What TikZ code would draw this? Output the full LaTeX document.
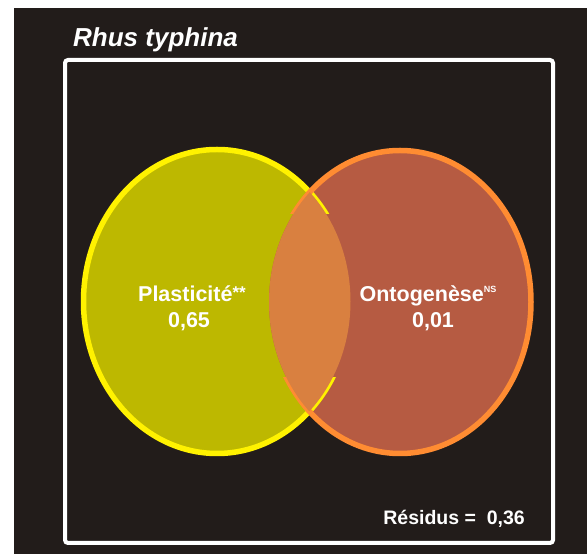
\documentclass[tikz,border=0pt]{standalone}
\usepackage{fontspec}
\setmainfont{Liberation Sans}
\definecolor{bgdark}{HTML}{221C1A}
\definecolor{yfill}{HTML}{BDB800}
\definecolor{ystroke}{HTML}{FFF200}
\definecolor{ofill}{HTML}{B65B42}
\definecolor{ostroke}{HTML}{FF8C32}
\definecolor{lensfill}{HTML}{D98040}
\begin{document}
\begin{tikzpicture}[x=1pt,y=1pt,
  lbl/.style={text=white,font=\bfseries\fontsize{21.5}{23}\selectfont,align=center,inner sep=0pt},
  ystr/.style={draw=ystroke,line width=5.5pt},
  ostr/.style={draw=ostroke,line width=5.5pt}]
\useasboundingbox (0,0) rectangle (587,554);
\fill[white] (0,0) rectangle (587,554);
\fill[bgdark] (14,0) rectangle (587,546);
% frame
\draw[white,line width=4pt,rounded corners=3pt] (65,11) rectangle (553,494);
\node[anchor=base west,text=white,inner sep=0pt,font=\bfseries\itshape\fontsize{26}{28}\selectfont] (title) at (73,507) {Rhus typhina};
% ellipses
\coordinate (yc) at (217,252.5);
\coordinate (oc) at (400,252);
\fill[yfill] (yc) ellipse [x radius=133.5,y radius=152];
\fill[ofill] (oc) ellipse [x radius=131,y radius=151.5];
\draw[ystr] (yc) ellipse [x radius=133.5,y radius=152];
\draw[ostr] (oc) ellipse [x radius=131,y radius=151.5];
% lens
\begin{scope}
\clip (yc) ellipse [x radius=133.5,y radius=152];
\fill[lensfill] (oc) ellipse [x radius=131,y radius=151.5];
\end{scope}
% hide the strokes along the lens in the middle band
\begin{scope}
\clip (240,177) rectangle (380,339);
\fill[yfill] (yc) ellipse [x radius=133.5,y radius=152];
\fill[ofill] (oc) ellipse [x radius=131,y radius=151.5];
\clip (yc) ellipse [x radius=133.5,y radius=152];
\fill[lensfill] (oc) ellipse [x radius=131,y radius=151.5];
\end{scope}
% labels
\node[lbl,anchor=base] (pl) at (192,252) {Plasticité\raisebox{3pt}{\fontsize{17}{17}\selectfont **}};
\node[lbl,anchor=base] (plv) at (189,226) {0,65};
\node[lbl,anchor=base] (on) at (428,252) {Ontogenèse\raisebox{9pt}{\fontsize{9}{9}\selectfont NS}};
\node[lbl,anchor=base] (onv) at (433,226) {0,01};
\node[anchor=base east,text=white,inner sep=0pt,font=\bfseries\fontsize{19.5}{21}\selectfont] (res) at (525,29) {Résidus =\ \ 0,36};
\end{tikzpicture}
\end{document}
